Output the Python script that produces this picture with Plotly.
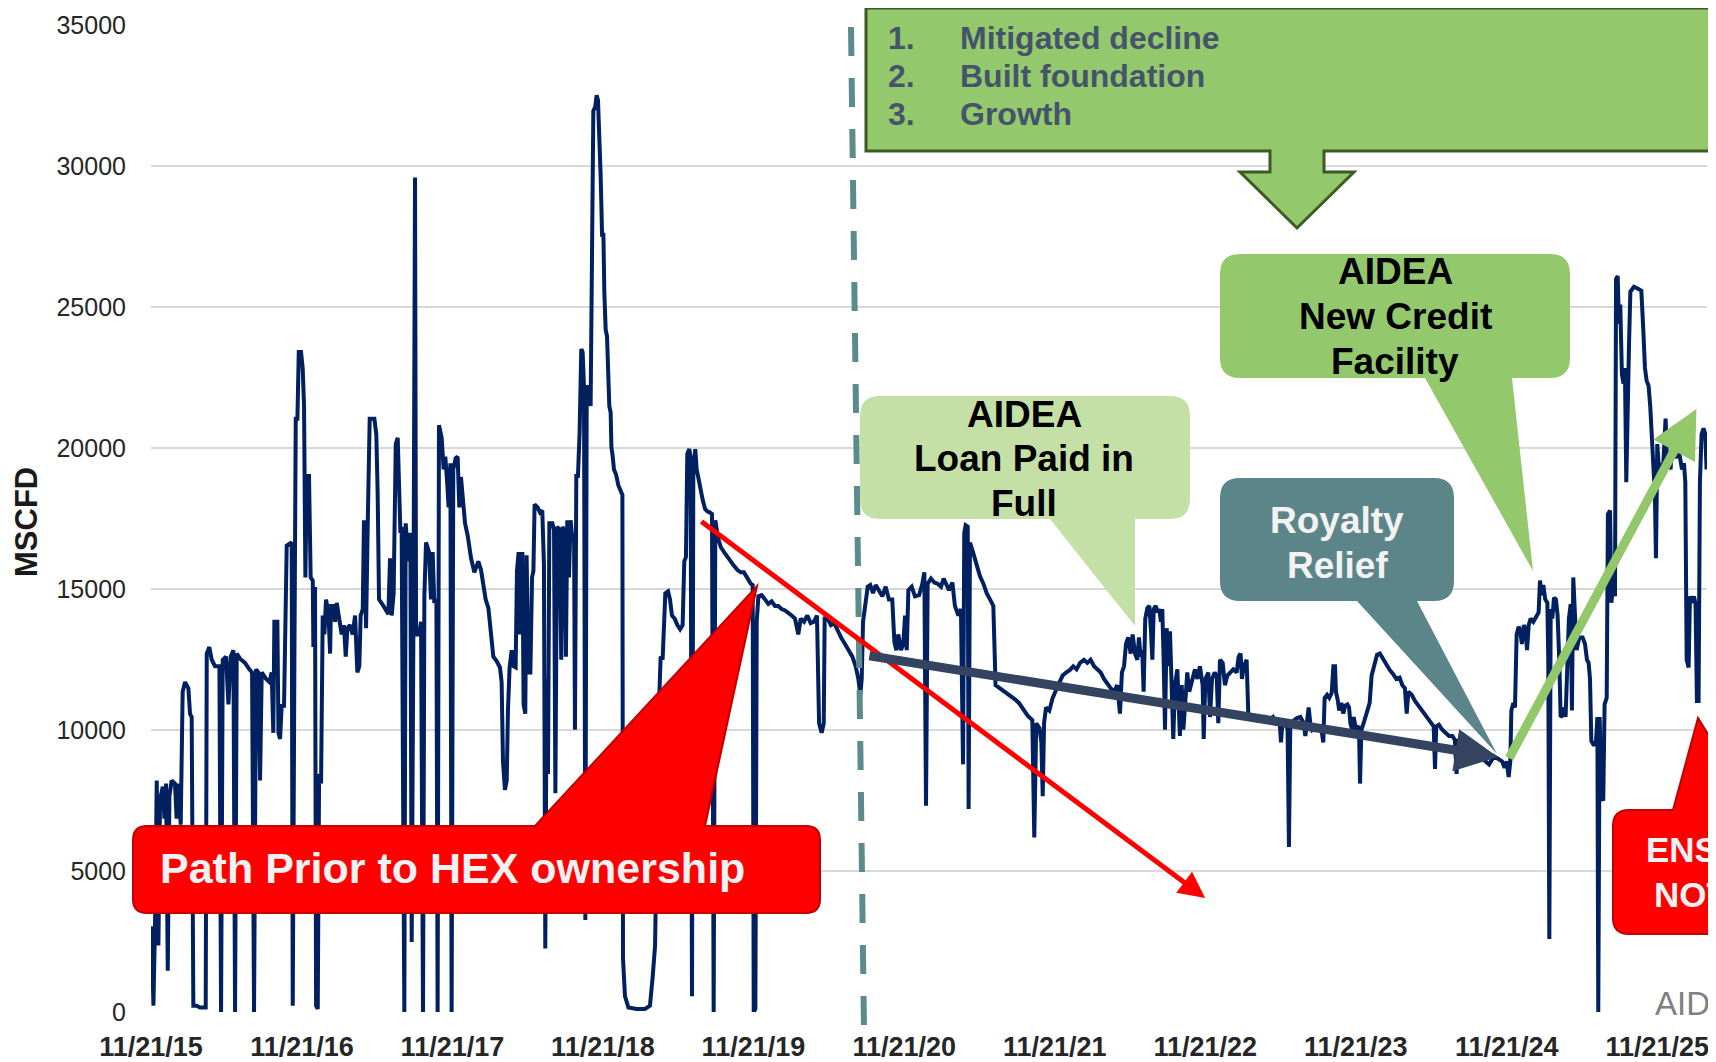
import numpy as np
import pandas as pd
import plotly.graph_objects as go

# ---------------- DATA (years since 11/21/15, MSCFD) ----------------
START = pd.Timestamp("2015-11-21")

seg_2015_2017 = [
    (0.004, 3040), (0.016, 225), (0.027, 3260), (0.038, 8210), (0.049, 2360), (0.060, 7540),
    (0.078, 7990), (0.089, 6860), (0.100, 8100), (0.111, 1460), (0.122, 7650), (0.137, 8210),
    (0.159, 8100), (0.170, 6860), (0.182, 8100), (0.197, 6640), (0.210, 11360), (0.226, 11700),
    (0.248, 11475), (0.259, 10575), (0.270, 10460), (0.281, 225), (0.303, 225), (0.325, 160),
    (0.363, 160), (0.370, 12710), (0.387, 12940), (0.403, 12490), (0.425, 12260), (0.454, 12260),
    (0.465, 0), (0.476, 12490), (0.498, 12600), (0.514, 10910), (0.529, 12600), (0.547, 12830),
    (0.558, 0), (0.569, 12710), (0.591, 12530), (0.624, 12380), (0.653, 12150), (0.671, 12040),
    (0.684, 0), (0.697, 12150), (0.713, 12040), (0.724, 8210), (0.735, 12040), (0.764, 11810),
    (0.786, 11700), (0.801, 12040), (0.812, 9900), (0.819, 13840), (0.839, 13840), (0.846, 9900),
    (0.857, 9680), (0.868, 10910), (0.883, 10800), (0.901, 16540), (0.934, 16650), (0.941, 225),
    (0.952, 12490), (0.961, 21040), (0.972, 21040), (0.981, 23400), (0.996, 23400), (1.007, 22840),
    (1.016, 21490), (1.025, 15410), (1.034, 19010), (1.049, 19010), (1.060, 15410), (1.074, 15300),
    (1.078, 12940), (1.089, 15075), (1.096, 225), (1.107, 110), (1.116, 8440), (1.129, 8100),
    (1.140, 14060), (1.151, 13390), (1.162, 14620), (1.178, 14170), (1.189, 12710), (1.195, 14400),
    (1.211, 14400), (1.222, 13840), (1.233, 14510), (1.250, 13950), (1.266, 13390), (1.281, 13720),
    (1.293, 12600), (1.304, 13610), (1.321, 13720), (1.339, 13390), (1.355, 14060), (1.370, 12040),
    (1.383, 12260), (1.392, 14060), (1.406, 14290), (1.414, 17440),
]

seg_2017_2018 = [
    (1.428, 13610), (1.439, 17330), (1.452, 21040), (1.483, 21040), (1.496, 20480), (1.505, 18340),
    (1.514, 14630), (1.543, 14400), (1.576, 14110), (1.587, 16090), (1.598, 14060), (1.611, 14850),
    (1.625, 20140), (1.638, 20360), (1.647, 18900), (1.656, 16990), (1.664, 17210), (1.682, 0),
    (1.691, 17330), (1.709, 15980), (1.722, 16990), (1.731, 2480), (1.742, 13390), (1.753, 29590),
    (1.760, 13390), (1.780, 13390), (1.793, 13840), (1.806, 0), (1.815, 14740), (1.826, 16650),
    (1.846, 16310), (1.859, 14630), (1.870, 16310), (1.881, 14510), (1.895, 14630), (1.903, 0),
    (1.912, 20810), (1.930, 20360), (1.943, 19240), (1.954, 19690), (1.965, 18900), (1.976, 17890),
    (1.988, 19460), (1.996, 0), (2.007, 19240), (2.023, 19640), (2.036, 19690), (2.047, 17890),
    (2.058, 18970), (2.069, 18110), (2.085, 17330), (2.103, 16880), (2.125, 16090), (2.147, 15590),
    (2.173, 15980), (2.191, 15680), (2.207, 15190), (2.222, 14630), (2.240, 14330), (2.258, 13500),
    (2.273, 12600), (2.295, 12440), (2.317, 12220), (2.328, 11700), (2.337, 8890), (2.350, 7880),
    (2.362, 8210), (2.370, 10690), (2.381, 12220), (2.395, 12830), (2.408, 12260), (2.421, 12220),
    (2.430, 15640), (2.441, 16310), (2.448, 13390), (2.457, 15190), (2.466, 16310), (2.474, 10910),
    (2.485, 10580), (2.494, 16200), (2.505, 12040), (2.519, 12040), (2.530, 15410), (2.539, 15640),
    (2.547, 18000), (2.567, 17890), (2.583, 17710), (2.598, 17780), (2.609, 15860), (2.618, 2250),
    (2.627, 11810), (2.636, 8440), (2.645, 17330), (2.665, 17330), (2.676, 17100), (2.685, 7760),
    (2.696, 17210), (2.713, 17100), (2.724, 12490), (2.733, 17210), (2.747, 16990), (2.755, 12600),
    (2.764, 17440), (2.775, 15410), (2.786, 17440), (2.798, 16760), (2.809, 16990), (2.815, 10010),
    (2.824, 19010), (2.835, 19010), (2.846, 20590), (2.857, 23510), (2.866, 23400), (2.875, 22160),
    (2.884, 3260), (2.893, 22160), (2.908, 22160),
]

seg_2018_2020 = [
    (2.919, 21490), (2.928, 29590), (2.937, 31950), (2.950, 32110), (2.959, 32510), (2.968, 32330),
    (2.977, 31280), (2.986, 29590), (2.995, 27560), (3.004, 27560), (3.010, 25540), (3.019, 24190),
    (3.028, 23960), (3.035, 22730), (3.043, 21490), (3.052, 21260), (3.057, 20030), (3.065, 19730),
    (3.074, 19240), (3.088, 19060), (3.103, 18680), (3.121, 18450), (3.130, 18340), (3.134, 1910),
    (3.147, 560), (3.170, 160), (3.225, 110), (3.280, 110), (3.313, 225), (3.331, 1240),
    (3.347, 2360), (3.369, 10240), (3.384, 12600), (3.397, 12490), (3.406, 13390), (3.415, 14850),
    (3.433, 14920), (3.446, 14630), (3.459, 14060), (3.477, 13950), (3.495, 13720), (3.513, 13570),
    (3.530, 13720), (3.541, 15980), (3.552, 16130), (3.561, 19800), (3.574, 19960), (3.583, 19690),
    (3.592, 560), (3.601, 19240), (3.614, 19960), (3.623, 19240), (3.636, 18900), (3.650, 18450),
    (3.663, 18160), (3.679, 17840), (3.694, 17750), (3.712, 17710), (3.725, 17660), (3.736, 0),
    (3.747, 17440), (3.765, 16810), (3.783, 16490), (3.805, 16310), (3.827, 16130), (3.849, 15980),
    (3.871, 15820), (3.893, 15680), (3.915, 15590), (3.937, 15590), (3.960, 15370), (3.982, 15190),
    (3.995, 15140), (4.002, 0), (4.013, 110), (4.022, 13840), (4.033, 14740), (4.055, 14780),
    (4.077, 14630), (4.099, 14470), (4.121, 14560), (4.143, 14400), (4.165, 14400), (4.187, 14290),
    (4.210, 14240), (4.232, 14170), (4.254, 14060), (4.276, 13950), (4.298, 13390), (4.314, 13950),
    (4.336, 13840), (4.358, 14060), (4.380, 13790), (4.402, 13840),
]

seg_2020_2021 = [
    (4.409, 13950), (4.422, 14060), (4.436, 10240), (4.453, 9900), (4.467, 10240), (4.473, 13950),
    (4.493, 13950), (4.515, 13720), (4.537, 13790), (4.559, 13500), (4.582, 13280), (4.608, 13050),
    (4.635, 12830), (4.657, 12600), (4.679, 12260), (4.697, 11810), (4.710, 11250), (4.719, 11810),
    (4.728, 13840), (4.741, 14400), (4.759, 15080), (4.776, 15140), (4.794, 14850), (4.812, 15140),
    (4.834, 14960), (4.856, 14740), (4.878, 15080), (4.900, 14630), (4.922, 14630), (4.936, 13120),
    (4.949, 12830), (4.962, 13390), (4.980, 12830), (4.995, 13050), (5.007, 14060), (5.018, 12830),
    (5.029, 14960), (5.051, 15080), (5.073, 14740), (5.100, 14780), (5.122, 15190), (5.135, 15590),
    (5.146, 7310), (5.157, 15190), (5.179, 15370), (5.201, 15230), (5.223, 15190), (5.246, 15080),
    (5.263, 15370), (5.277, 15190), (5.299, 14960), (5.321, 15230), (5.338, 14400), (5.361, 14060),
    (5.378, 14290), (5.392, 8780), (5.400, 16990), (5.409, 17260), (5.423, 17210), (5.429, 7200),
    (5.438, 16650), (5.460, 16270), (5.482, 15860), (5.504, 15460), (5.527, 15190), (5.549, 14850),
    (5.571, 14630), (5.593, 14400), (5.608, 11590), (5.637, 11480), (5.670, 11360), (5.704, 11250),
    (5.737, 11090), (5.763, 10960), (5.792, 10730), (5.821, 10510), (5.852, 10350), (5.865, 6190),
    (5.878, 10240), (5.900, 10060),
]

seg_2021_2023 = [
    (5.912, 9560), (5.921, 7650), (5.930, 10240), (5.943, 10800), (5.965, 10690), (5.987, 11140),
    (6.009, 11410), (6.031, 11700), (6.053, 11930), (6.076, 12040), (6.102, 12130), (6.124, 12260),
    (6.146, 12150), (6.169, 12380), (6.195, 12490), (6.217, 12380), (6.239, 12490), (6.262, 12260),
    (6.284, 12150), (6.306, 12040), (6.328, 11810), (6.350, 11630), (6.372, 11480), (6.394, 11360),
    (6.416, 11590), (6.434, 10580), (6.447, 12040), (6.461, 12260), (6.474, 13050), (6.489, 13280),
    (6.505, 12710), (6.518, 13390), (6.534, 12710), (6.549, 12490), (6.560, 13280), (6.571, 12600),
    (6.582, 12830), (6.591, 11360), (6.602, 13950), (6.616, 14330), (6.629, 14400), (6.640, 13500),
    (6.649, 12490), (6.658, 14290), (6.671, 14400), (6.684, 14170), (6.695, 14290), (6.706, 13840),
    (6.715, 14290), (6.724, 12490), (6.733, 10010), (6.744, 13610), (6.755, 12260), (6.766, 13500),
    (6.777, 11140), (6.788, 9680), (6.799, 11590), (6.815, 12150), (6.832, 9790), (6.844, 11590),
    (6.855, 10010), (6.868, 11360), (6.881, 12040), (6.894, 11360), (6.912, 11810), (6.932, 12150),
    (6.948, 11810), (6.965, 12260), (6.983, 11590), (6.990, 9680), (7.001, 11810), (7.021, 12040),
    (7.032, 10460), (7.045, 11810), (7.063, 12040), (7.076, 11930), (7.087, 10240), (7.098, 12490),
    (7.116, 12380), (7.131, 11590), (7.147, 11930), (7.164, 12040), (7.187, 12150), (7.209, 12040),
    (7.222, 12600), (7.235, 12710), (7.244, 11810), (7.257, 12260), (7.275, 12490), (7.286, 10580),
    (7.308, 10460), (7.341, 10350), (7.375, 10350),
]

seg_2023_2024 = [
    (7.397, 10460), (7.424, 10350), (7.450, 10460), (7.472, 10240), (7.494, 10350), (7.503, 9560),
    (7.514, 10350), (7.534, 10240), (7.547, 10010), (7.556, 5850), (7.565, 10240), (7.587, 10350),
    (7.609, 10420), (7.632, 10460), (7.654, 10240), (7.665, 9790), (7.676, 10350), (7.687, 10800),
    (7.698, 10240), (7.711, 10010), (7.733, 10130), (7.755, 10060), (7.773, 9970), (7.784, 9560),
    (7.793, 11140), (7.809, 11250), (7.824, 11140), (7.840, 11320), (7.851, 12260), (7.862, 12260),
    (7.868, 11360), (7.879, 11090), (7.890, 10690), (7.904, 10960), (7.917, 10580), (7.930, 10870),
    (7.944, 10910), (7.955, 10800), (7.964, 10240), (7.975, 10010), (7.986, 10460), (8.000, 10060),
    (8.021, 10130), (8.028, 8100), (8.037, 10010), (8.052, 10240), (8.074, 10690), (8.092, 10960),
    (8.105, 11930), (8.123, 12380), (8.141, 12670), (8.160, 12710), (8.180, 12530), (8.203, 12310),
    (8.225, 12130), (8.247, 11990), (8.269, 11810), (8.291, 11860), (8.309, 11590), (8.326, 11480),
    (8.338, 10580), (8.349, 11360), (8.371, 11250), (8.393, 11030), (8.415, 10870), (8.437, 10690),
    (8.459, 10550), (8.481, 10370), (8.504, 10240), (8.517, 10130), (8.526, 8620), (8.534, 10130),
    (8.552, 10190), (8.574, 10010), (8.596, 9900), (8.619, 9790), (8.641, 9790), (8.658, 9650),
    (8.669, 8440), (8.681, 9680), (8.703, 9560), (8.725, 9450), (8.747, 9340), (8.769, 9290),
    (8.791, 9230), (8.813, 9110), (8.835, 9000), (8.858, 8890), (8.885, 8780),
]

seg_2024_2026 = [
    (8.918, 9070), (8.944, 8980), (8.971, 8890), (8.988, 8660), (9.002, 8890), (9.015, 8330),
    (9.026, 8890), (9.033, 10690), (9.046, 10960), (9.057, 10800), (9.068, 13390), (9.081, 13660),
    (9.092, 13500), (9.103, 13050), (9.115, 13720), (9.126, 13610), (9.137, 12830), (9.148, 13720),
    (9.161, 13950), (9.179, 13840), (9.201, 14060), (9.214, 14170), (9.223, 15300), (9.234, 14780),
    (9.245, 15140), (9.258, 14630), (9.272, 14510), (9.278, 12490), (9.285, 2590), (9.294, 14290),
    (9.305, 13950), (9.316, 14690), (9.329, 14630), (9.340, 14060), (9.351, 12490), (9.360, 10460),
    (9.371, 10510), (9.382, 10800), (9.393, 10460), (9.404, 11810), (9.415, 13950), (9.427, 14470),
    (9.435, 10690), (9.444, 15410), (9.455, 13660), (9.466, 12830), (9.484, 13280), (9.506, 13280),
    (9.522, 13050), (9.535, 12490), (9.546, 12380), (9.555, 11810), (9.564, 9610), (9.581, 9450),
    (9.595, 9610), (9.604, 10460), (9.610, 0), (9.619, 10460), (9.632, 7650), (9.643, 7490),
    (9.652, 10910), (9.666, 11140), (9.674, 17660), (9.688, 17780), (9.697, 14510), (9.710, 15190),
    (9.721, 14740), (9.728, 25990), (9.739, 26100), (9.747, 24410), (9.756, 25090), (9.767, 22610),
    (9.778, 22280), (9.787, 22840), (9.796, 18790), (9.805, 22390), (9.814, 23630), (9.823, 25540),
    (9.847, 25720), (9.874, 25650), (9.896, 25580), (9.909, 24190), (9.920, 22840), (9.931, 22390),
    (9.944, 22210), (9.955, 21490), (9.967, 20030), (9.978, 19240), (9.986, 18340), (9.993, 16090),
    (10.002, 20140), (10.013, 19240), (10.026, 19460), (10.040, 19240), (10.048, 20360),
    (10.057, 21040), (10.066, 19690), (10.079, 19640), (10.090, 19240), (10.101, 20140),
    (10.113, 19800), (10.126, 19640), (10.139, 19960), (10.152, 19690), (10.166, 19240),
    (10.179, 19460), (10.188, 18790), (10.197, 12490), (10.210, 12220), (10.219, 14740),
    (10.232, 14510), (10.245, 14740), (10.256, 14470), (10.265, 11030), (10.276, 11030),
    (10.285, 18790), (10.296, 20480), (10.309, 20700), (10.321, 20480), (10.329, 19240),
]

# trend arrows: (start years, start MSCFD, end years, end MSCFD)
trend_prior_hex = (3.645, 17430, 7.000, 4040)
trend_hex_decline = (4.760, 12640, 8.944, 9040)
trend_growth = (9.013, 8950, 10.262, 21380)

y_ticks = [0, 5000, 10000, 15000, 20000, 25000, 30000, 35000]
tick_years = list(range(2015, 2026))
X_END_YEARS = 10.332

# ---------------- helpers ----------------
def to_date(years):
    return START + pd.to_timedelta(np.asarray(years) * 365.25, unit="D")

def dstr(years):
    return pd.Timestamp(to_date(years)).strftime("%Y-%m-%d %H:%M:%S")

pairs = (seg_2015_2017 + seg_2017_2018 + seg_2018_2020 + seg_2020_2021
         + seg_2021_2023 + seg_2023_2024 + seg_2024_2026)
dates = to_date([p[0] for p in pairs])
values = [p[1] for p in pairs]

tick_dates = [pd.Timestamp(f"{y}-11-21") for y in tick_years]
tick_text = [d.strftime("%m/%d/%y") for d in tick_dates]

# page body has an 8px default margin; the figure is sized/offset for it
PAGE_OFF = 8
FIG_W, FIG_H = 1716 - PAGE_OFF, 1062 - PAGE_OFF
# plot area in the reference's window pixels
PLOT_L, PLOT_R, PLOT_T, PLOT_B = 151, 1707, 25, 1012
FONT = "Liberation Sans, Arial, Helvetica, sans-serif"

def fx(x):
    return (x - PLOT_L) / (PLOT_R - PLOT_L)

def fy(y):
    return (PLOT_B - y) / (PLOT_B - PLOT_T)

def pp(x, y):
    return f"{fx(x):.5f},{fy(y):.5f}"

def callout_path(x0, y0, x1, y1, r, side, b0, b1, tip):
    if side == "bottom":
        return (f"M{pp(x0 + r, y0)} L{pp(x1 - r, y0)} Q{pp(x1, y0)} {pp(x1, y0 + r)} "
                f"L{pp(x1, y1 - r)} Q{pp(x1, y1)} {pp(x1 - r, y1)} "
                f"L{pp(b1, y1)} L{pp(*tip)} L{pp(b0, y1)} "
                f"L{pp(x0 + r, y1)} Q{pp(x0, y1)} {pp(x0, y1 - r)} "
                f"L{pp(x0, y0 + r)} Q{pp(x0, y0)} {pp(x0 + r, y0)} Z")
    return (f"M{pp(x0 + r, y0)} L{pp(b0, y0)} L{pp(*tip)} L{pp(b1, y0)} "
            f"L{pp(x1 - r, y0)} Q{pp(x1, y0)} {pp(x1, y0 + r)} "
            f"L{pp(x1, y1 - r)} Q{pp(x1, y1)} {pp(x1 - r, y1)} "
            f"L{pp(x0 + r, y1)} Q{pp(x0, y1)} {pp(x0, y1 - r)} "
            f"L{pp(x0, y0 + r)} Q{pp(x0, y0)} {pp(x0 + r, y0)} Z")

shapes = []
annotations = []

def add_path(d, fill, line_color=None, line_width=0):
    shapes.append(dict(type="path", path=d, xref="paper", yref="paper", fillcolor=fill,
                       line=dict(color=line_color or fill, width=line_width), layer="above"))

def add_text(x, y, s, size, color, anchor="center", bold=True, angle=0):
    annotations.append(dict(x=fx(x), y=fy(y), xref="paper", yref="paper", text=s,
                            showarrow=False, xanchor=anchor, yanchor="middle", textangle=angle,
                            borderpad=0,
                            font=dict(family=FONT, size=size, color=color,
                                      weight="bold" if bold else "normal")))

# dashed divider (HEX ownership start)
shapes.append(dict(type="line", xref="paper", yref="paper",
                   x0=fx(851), y0=fy(27), x1=fx(864), y1=fy(1030),
                   line=dict(color="#5b8b8d", width=6, dash="29px,22px"), layer="above"))

# top down-arrow callout
top = [(866, 8), (1740, 8), (1740, 151), (1324, 151), (1324, 172), (1354, 172),
       (1297, 228), (1240, 172), (1270, 172), (1270, 151), (866, 151)]
add_path("M" + " L".join(pp(*p) for p in top) + " Z", "#94c86c", "#3d5a22", 3)

GREEN_LIGHT = "#c4e0a6"
GREEN = "#94c86c"
TEAL = "#5b8588"
RED = "#ff0000"

add_path(callout_path(860, 396, 1190, 519, 20, "bottom", 1050, 1135, (1135, 626)), GREEN_LIGHT)
add_path(callout_path(1220, 254, 1570, 378, 20, "bottom", 1425, 1512, (1533, 571)), GREEN)
add_path(callout_path(1220, 478, 1454, 601, 20, "bottom", 1357, 1417, (1497, 754)), TEAL)
add_path(callout_path(133, 826, 820, 913, 14, "top", 535, 705, (757, 586)), RED, "#c00000", 2)
add_path(callout_path(1613, 810, 1800, 934, 16, "top", 1673, 1755, (1698, 718)), RED, "#c00000", 2)

# texts
TXT_TOP = "#44546a"
for yy, num, s in [(38, "1.", "Mitigated decline"), (76, "2.", "Built foundation"),
                   (114, "3.", "Growth")]:
    add_text(887, yy, num, 32, TXT_TOP, anchor="left")
    add_text(959, yy, s, 32, TXT_TOP, anchor="left")

for yy, s in [(414, "AIDEA"), (459, "Loan Paid in"), (503, "Full")]:
    add_text(1024, yy, s, 37, "#000000")
for yy, s in [(271, "AIDEA"), (316, "New Credit"), (361, "Facility")]:
    add_text(1395, yy, s, 37, "#000000")
for yy, s in [(520, "Royalty"), (565, "Relief")]:
    add_text(1337, yy, s, 37, "#f2f2f2")
add_text(159, 868, "Path Prior to HEX ownership", 43, "#f2f2f2", anchor="left")
add_text(1645, 849, "ENS", 35, "#f2f2f2", anchor="left")
add_text(1653, 894, "NOT", 35, "#f2f2f2", anchor="left")
add_text(1654, 1003, "AID", 33, "#808080", anchor="left", bold=False)
add_text(26, 522, "MSCFD", 31, "#1a1a1a", angle=-90)

# trend arrows (data space)
for (t0, v0, t1, v1), color, width, size in [
        (trend_prior_hex, "#ff0000", 5, 1.05),
        (trend_hex_decline, "#34435f", 9, 0.95),
        (trend_growth, "#92c86a", 9, 1.05)]:
    annotations.append(dict(x=dstr(t1), y=v1, ax=dstr(t0), ay=v0, xref="x", yref="y",
                            axref="x", ayref="y", text="", showarrow=True, arrowhead=2,
                            arrowsize=size, arrowwidth=width, arrowcolor=color, standoff=0))

fig = go.Figure()
fig.add_trace(go.Scatter(x=dates, y=values, mode="lines",
                         line=dict(color="#002060", width=4), hoverinfo="skip",
                         showlegend=False))

fig.update_layout(
    width=FIG_W, height=FIG_H,
    margin=dict(l=PLOT_L - PAGE_OFF, r=FIG_W - (PLOT_R - PAGE_OFF),
                t=PLOT_T - PAGE_OFF, b=FIG_H - (PLOT_B - PAGE_OFF), autoexpand=False),
    paper_bgcolor="white", plot_bgcolor="white",
    showlegend=False,
    xaxis=dict(type="date", range=[dstr(-0.0002), dstr(X_END_YEARS)],
               tickmode="array", tickvals=tick_dates, ticktext=tick_text,
               showgrid=False, zeroline=False, showline=False, ticks="",
               ticklabelstandoff=16, automargin=False,
               tickfont=dict(family=FONT, size=27, color="#262626", weight="bold")),
    yaxis=dict(range=[0, 35000], tickmode="array", tickvals=y_ticks,
               ticktext=[str(v) for v in y_ticks],
               showgrid=True, gridcolor="#d9d9d9", gridwidth=2,
               zeroline=False, showline=False, ticks="", ticklabelstandoff=24,
               automargin=False,
               tickfont=dict(family=FONT, size=25, color="#262626")),
    shapes=shapes,
    annotations=annotations,
)

fig.write_html("out.html", config={"displayModeBar": False})
